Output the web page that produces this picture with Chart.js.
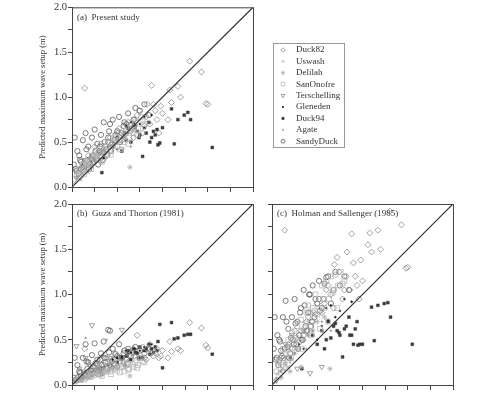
<!DOCTYPE html>
<html>
<head>
<meta charset="utf-8">
<script src="https://cdn.jsdelivr.net/npm/chart.js@4"></script>
<style>
body { margin: 0; background: #fff; }
#wrap { position: relative; width: 502px; height: 396px; overflow: hidden; }
canvas { position: absolute; }
</style>
</head>
<body>
<div id="wrap">
  <canvas id="chartA" width="360" height="200" style="left:0;top:0"></canvas>
  <canvas id="chartB" width="260" height="200" style="left:0;top:196px"></canvas>
  <canvas id="chartC" width="242" height="200" style="left:260px;top:196px"></canvas>
</div>
<script>
// measured setup (x) and predicted setup for panels a, b, c (y)
const xSandyDuck = [0.02,0.03,0.05,0.06,0.08,0.10,0.12,0.13,0.15,0.17,0.18,0.20,0.22,0.23,0.25,0.27,0.28,0.30,0.32,0.33,
  0.35,0.37,0.38,0.40,0.42,0.44,0.45,0.47,0.50,0.52,0.55,0.57,0.60,0.62,0.65,0.68,0.70,0.75,0.80,0.85,
  0.04,0.07,0.09,0.11,0.14,0.16,0.19,0.21,0.24,0.26,0.29,0.31,0.34,0.36,0.39,0.41,0.43,0.48,0.53,0.58];
const aSandyDuck = [0.25,0.55,0.18,0.40,0.35,0.28,0.52,0.22,0.60,0.30,0.45,0.26,0.55,0.35,0.64,0.30,0.48,0.38,0.58,0.34,
  0.72,0.45,0.42,0.55,0.70,0.48,0.75,0.52,0.62,0.78,0.60,0.68,0.70,0.82,0.65,0.75,0.88,0.85,0.92,0.80,
  0.20,0.15,0.30,0.22,0.25,0.42,0.20,0.32,0.28,0.40,0.25,0.45,0.30,0.50,0.36,0.62,0.40,0.58,0.50,0.72];
const bSandyDuck = [0.08,0.30,0.05,0.22,0.15,0.10,0.30,0.12,0.45,0.18,0.25,0.12,0.33,0.20,0.46,0.15,0.28,0.18,0.35,0.22,
  0.48,0.25,0.20,0.61,0.60,0.26,0.40,0.28,0.32,0.45,0.30,0.35,0.28,0.40,0.32,0.36,0.42,0.38,0.35,0.40,
  0.06,0.09,0.14,0.08,0.10,0.26,0.12,0.16,0.13,0.24,0.12,0.28,0.15,0.30,0.18,0.36,0.20,0.34,0.30,0.38];
const cSandyDuck = [0.40,0.75,0.30,0.55,0.50,0.38,0.75,0.30,0.93,0.42,0.62,0.35,0.75,0.50,0.95,0.45,0.70,0.55,0.85,0.50,
  1.05,0.65,0.60,0.80,1.00,0.70,1.10,0.75,0.90,1.15,0.85,0.95,1.19,1.20,0.90,1.05,1.25,1.10,1.20,1.05,
  0.28,0.22,0.48,0.32,0.40,0.70,0.30,0.52,0.45,0.68,0.40,0.80,0.50,0.88,0.60,1.00,0.65,0.95,0.82,1.12];

const xDuck82 = [0.10,0.14,0.18,0.22,0.25,0.30,0.35,0.40,0.45,0.50,0.55,0.60,0.65,0.69,0.72,0.80,0.83,0.88,0.92,0.98,
  1.00,1.06,1.08,1.10,1.17,1.20,1.30,1.43,1.48,1.50,
  0.32,0.38,0.42,0.48,0.52,0.58,0.62,0.68,0.74,0.78,0.82,0.86,0.90,0.94,0.96];
const aDuck82 = [0.20,1.10,0.35,0.30,0.45,0.40,0.38,0.50,0.45,0.60,0.52,0.70,0.62,0.75,0.80,0.68,0.92,1.13,0.85,0.90,
  0.82,0.75,1.08,0.94,1.12,1.00,1.40,1.28,0.93,0.92,
  0.48,0.42,0.55,0.50,0.65,0.58,0.72,0.55,0.85,0.60,0.78,0.70,0.92,0.75,0.60];
const bDuck82 = [0.10,0.40,0.15,0.18,0.20,0.16,0.22,0.25,0.28,0.20,0.30,0.30,0.35,0.32,0.55,0.30,0.40,0.35,0.35,0.32,
  0.38,0.30,0.48,0.37,0.40,0.38,0.69,0.63,0.44,0.41,
  0.18,0.30,0.22,0.35,0.26,0.38,0.24,0.40,0.30,0.42,0.28,0.45,0.32,0.40,0.30];
const cDuck82 = [0.30,1.71,0.45,0.40,0.60,0.55,0.55,0.75,0.70,0.90,0.80,1.05,1.00,1.33,1.41,1.05,1.47,1.67,1.20,1.38,
  1.15,1.55,1.68,1.47,1.71,1.50,1.92,1.77,1.29,1.30,
  0.60,0.70,0.80,0.78,0.95,0.90,1.10,0.85,1.25,0.95,1.20,1.05,1.35,1.10,0.95];

const xSanOnofre = [0.05,0.08,0.10,0.12,0.15,0.18,0.20,0.22,0.25,0.28,0.30,0.32,0.35,0.38,0.40,0.42,0.45,0.48,0.50,0.52,
  0.55,0.58,0.60,0.63,0.65,0.68,0.70,0.73,0.76,0.80,
  0.07,0.13,0.17,0.21,0.27,0.33,0.37,0.43,0.47,0.53,0.57,0.62,0.67,0.72,0.78];
const aSanOnofre = [0.12,0.20,0.15,0.25,0.22,0.30,0.28,0.35,0.32,0.40,0.30,0.42,0.38,0.45,0.50,0.40,0.48,0.55,0.45,0.52,
  0.58,0.50,0.62,0.55,0.68,0.60,0.72,0.65,0.78,0.70,
  0.18,0.14,0.26,0.20,0.36,0.28,0.45,0.36,0.52,0.42,0.60,0.48,0.64,0.58,0.74];
const bSanOnofre = [0.05,0.08,0.06,0.10,0.08,0.12,0.10,0.14,0.11,0.16,0.12,0.18,0.14,0.20,0.17,0.15,0.22,0.18,0.16,0.25,
  0.20,0.15,0.22,0.18,0.28,0.20,0.25,0.22,0.30,0.25,
  0.07,0.06,0.11,0.09,0.13,0.10,0.15,0.12,0.19,0.14,0.21,0.17,0.23,0.19,0.26];
const cSanOnofre = [0.15,0.30,0.22,0.40,0.35,0.50,0.42,0.58,0.50,0.65,0.48,0.72,0.60,0.80,0.88,0.65,0.85,1.00,0.78,0.95,
  1.10,0.85,1.15,0.95,1.20,1.05,1.22,1.10,1.25,1.15,
  0.25,0.20,0.38,0.30,0.52,0.40,0.68,0.55,0.82,0.62,0.95,0.70,1.02,0.85,1.12];

const xDuck94 = [0.33,0.45,0.50,0.55,0.58,0.62,0.65,0.68,0.72,0.75,0.78,0.80,0.85,0.88,0.90,0.95,0.97,1.00,1.10,1.13,
  1.17,1.24,1.28,1.31,1.55,0.60,0.70,0.74,0.82,0.86,0.92,0.94];
const aDuck94 = [0.16,0.45,0.55,0.40,0.60,0.65,0.50,0.70,0.62,0.58,0.34,0.66,0.72,0.55,0.62,0.47,0.49,0.66,0.87,0.48,
  0.75,0.80,0.83,0.75,0.44,0.52,0.68,0.55,0.60,0.50,0.58,0.64];
const bDuck94 = [0.12,0.20,0.25,0.30,0.22,0.38,0.28,0.40,0.35,0.42,0.30,0.38,0.45,0.40,0.36,0.48,0.67,0.19,0.69,0.51,
  0.52,0.55,0.56,0.56,0.34,0.32,0.36,0.30,0.40,0.34,0.42,0.38];
const cDuck94 = [0.18,0.55,0.45,0.60,0.40,0.70,0.52,0.65,0.60,0.55,0.31,0.62,0.75,0.55,0.45,0.44,0.45,0.45,0.86,0.49,
  0.88,0.90,0.91,0.75,0.45,0.50,0.68,0.58,0.65,0.55,0.62,0.70];

const xDelilah = [0.10,0.15,0.20,0.25,0.28,0.32,0.35,0.40,0.45,0.50,0.58,0.64];
const aDelilah = [0.15,0.25,0.22,0.30,0.35,0.28,0.40,0.38,0.45,0.50,0.55,0.22];
const bDelilah = [0.06,0.10,0.09,0.12,0.14,0.11,0.16,0.15,0.18,0.20,0.22,0.10];
const cDelilah = [0.08,0.25,0.15,0.35,0.40,0.20,0.50,0.55,0.60,0.70,0.75,0.18];

const xTerschelling = [0.05,0.08,0.12,0.15,0.18,0.22,0.28,0.35,0.42,0.55];
const aTerschelling = [0.10,0.20,0.18,0.30,0.25,0.35,0.30,0.40,0.45,0.42];
const bTerschelling = [0.43,0.18,0.15,0.30,0.25,0.66,0.22,0.30,0.30,0.61];
const cTerschelling = [0.05,0.25,0.15,0.45,0.30,0.55,0.18,0.60,0.13,0.20];

const xUswash = [0.03,0.06,0.08,0.10,0.12,0.15,0.18,0.22];
const aUswash = [0.05,0.10,0.12,0.08,0.15,0.18,0.16,0.22];
const bUswash = [0.02,0.05,0.06,0.04,0.07,0.08,0.07,0.10];
const cUswash = [0.04,0.12,0.15,0.10,0.18,0.22,0.20,0.28];

const xGleneden = [0.20,0.25,0.30,0.35,0.40,0.45,0.50,0.55,0.60,0.62,0.65,0.70,0.75,0.80,0.88];
const aGleneden = [0.25,0.30,0.38,0.32,0.45,0.50,0.42,0.55,0.68,0.60,0.72,0.65,0.70,0.78,0.80];
const bGleneden = [0.12,0.15,0.18,0.20,0.22,0.28,0.30,0.32,0.38,0.35,0.36,0.40,0.38,0.42,0.45];
const cGleneden = [0.30,0.35,0.45,0.40,0.55,0.60,0.50,0.65,0.85,0.72,0.88,0.75,0.82,0.95,0.92];

const xAgate = [0.05,0.10,0.15,0.20,0.25,0.30,0.38,0.45,0.55,0.65];
const aAgate = [0.10,0.15,0.20,0.22,0.28,0.35,0.32,0.40,0.50,0.45];
const bAgate = [0.05,0.08,0.52,0.12,0.14,0.18,0.50,0.20,0.25,0.28];
const cAgate = [0.08,0.15,0.30,0.25,0.35,0.45,0.40,0.55,0.70,0.60];

// perfect agreement line
const lineX = [0, 2];
const lineY = [0, 2];

const seriesNames = ['Duck82','Uswash','Delilah','SanOnofre','Terschelling','Gleneden','Duck94','Agate','SandyDuck'];
const axisTicks = [0, 0.5, 1.0, 1.5, 2.0];

// marker look for each series
const styles = {
  Duck82:       { pointStyle: 'rectRot',  radius: 3,   color: '#8a8a8a', fill: false },
  Uswash:       { pointStyle: 'crossRot', radius: 2.2, color: '#999999', fill: false },
  Delilah:      { pointStyle: 'star',     radius: 2.8, color: '#b0b0b0', fill: false },
  SanOnofre:    { pointStyle: 'rect',     radius: 3.4, color: '#b8b8b8', fill: false },
  Terschelling: { pointStyle: 'triangle', radius: 3,   color: '#8a8a8a', fill: false, rotation: 180 },
  Gleneden:     { pointStyle: 'circle',   radius: 0.9, color: '#111111', fill: true },
  Duck94:       { pointStyle: 'rect',     radius: 2.0, color: '#3a3a3a', fill: true },
  Agate:        { pointStyle: 'circle',   radius: 0.9, color: '#999999', fill: true },
  SandyDuck:    { pointStyle: 'circle',   radius: 2.6, color: '#5a5a5a', fill: false }
};

const xs = { Duck82: xDuck82, Uswash: xUswash, Delilah: xDelilah, SanOnofre: xSanOnofre, Terschelling: xTerschelling,
  Gleneden: xGleneden, Duck94: xDuck94, Agate: xAgate, SandyDuck: xSandyDuck };
const panelA = { Duck82: aDuck82, Uswash: aUswash, Delilah: aDelilah, SanOnofre: aSanOnofre, Terschelling: aTerschelling,
  Gleneden: aGleneden, Duck94: aDuck94, Agate: aAgate, SandyDuck: aSandyDuck };
const panelB = { Duck82: bDuck82, Uswash: bUswash, Delilah: bDelilah, SanOnofre: bSanOnofre, Terschelling: bTerschelling,
  Gleneden: bGleneden, Duck94: bDuck94, Agate: bAgate, SandyDuck: bSandyDuck };
const panelC = { Duck82: cDuck82, Uswash: cUswash, Delilah: cDelilah, SanOnofre: cSanOnofre, Terschelling: cTerschelling,
  Gleneden: cGleneden, Duck94: cDuck94, Agate: cAgate, SandyDuck: cSandyDuck };

function buildDatasets(ys) {
  // line first so it is painted on top
  const sets = [{
    type: 'line',
    data: lineX.map((v, i) => ({ x: v, y: lineY[i] })),
    borderColor: '#333',
    borderWidth: 1.2,
    pointRadius: 0,
    fill: false
  }];
  seriesNames.forEach(name => {
    const s = styles[name];
    sets.push({
      label: name,
      data: xs[name].map((v, i) => ({ x: v, y: ys[name][i] })),
      pointStyle: s.pointStyle,
      pointRadius: s.radius,
      pointRotation: s.rotation || 0,
      borderColor: s.color,
      backgroundColor: s.fill ? s.color : 'rgba(0,0,0,0)',
      borderWidth: s.fill ? 0.5 : 0.8
    });
  });
  return sets;
}

const serif = "'Liberation Serif', 'DejaVu Serif', serif";

// frame around the plot area plus the panel caption
const framePlugin = {
  id: 'frame',
  afterDraw(chart, args, opts) {
    const a = chart.chartArea;
    const ctx = chart.ctx;
    ctx.save();
    ctx.strokeStyle = '#444';
    ctx.lineWidth = 1;
    ctx.strokeRect(a.left + 0.5, a.top + 0.5, a.right - a.left, a.bottom - a.top);
    if (opts.text) {
      ctx.fillStyle = '#333';
      ctx.font = '9px ' + serif;
      ctx.textBaseline = 'middle';
      ctx.fillText(opts.text, a.left + 5, a.top + 10);
    }
    ctx.restore();
  }
};

// boxed legend to the right of panel (a)
const legendPlugin = {
  id: 'boxLegend',
  afterDraw(chart, args, opts) {
    if (!opts.show) return;
    const ctx = chart.ctx;
    ctx.save();
    ctx.strokeStyle = '#999';
    ctx.lineWidth = 1;
    ctx.strokeRect(273.5, 43.5, 71, 104);
    ctx.font = '9px ' + serif;
    ctx.textBaseline = 'middle';
    seriesNames.forEach((name, i) => {
      const s = styles[name];
      const y = 50 + i * 11.4;
      ctx.strokeStyle = s.color;
      ctx.fillStyle = s.fill ? s.color : 'rgba(0,0,0,0)';
      ctx.lineWidth = 0.8;
      Chart.helpers.drawPoint(ctx, {
        pointStyle: s.pointStyle, radius: s.radius * 0.75, rotation: s.rotation || 0, borderWidth: 0.8
      }, 283, y);
      ctx.fillStyle = '#333';
      ctx.fillText(name, 296, y);
    });
    ctx.restore();
  }
};

function makeScales(showYLabels, yAxisWidth) {
  return {
    x: {
      type: 'linear', min: 0, max: 2,
      afterBuildTicks: s => { s.ticks = [0,0.25,0.5,0.75,1,1.25,1.5,1.75,2].map(v => ({ value: v })); },
      ticks: { display: false },
      grid: { drawOnChartArea: false, drawTicks: true, tickLength: 5, color: '#444' },
      border: { color: '#444' },
      afterFit: s => { s.height = 8; }
    },
    y: {
      type: 'linear', min: 0, max: 2,
      afterBuildTicks: s => { s.ticks = [0,0.25,0.5,0.75,1,1.25,1.5,1.75,2].map(v => ({ value: v })); },
      ticks: {
        display: showYLabels,
        padding: 1,
        color: '#333',
        font: { family: serif, size: 10.5 },
        callback: v => axisTicks.includes(v) ? v.toFixed(1) : ''
      },
      title: {
        display: showYLabels,
        text: 'Predicted maximum wave setup (m)',
        color: '#333',
        font: { family: serif, size: 8.5 }
      },
      grid: { drawOnChartArea: false, drawTicks: true, tickLength: 4, color: '#444' },
      border: { color: '#444' },
      afterFit: s => { s.width = yAxisWidth; }
    }
  };
}

function makeChart(id, ys, caption, padding, showYLabels, yAxisWidth, showLegend) {
  return new Chart(document.getElementById(id), {
    type: 'scatter',
    data: { datasets: buildDatasets(ys) },
    options: {
      responsive: false,
      animation: false,
      layout: { padding: padding },
      scales: makeScales(showYLabels, yAxisWidth),
      plugins: {
        legend: { display: false },
        tooltip: { enabled: false },
        frame: { text: caption },
        boxLegend: { show: showLegend }
      }
    },
    plugins: [framePlugin, legendPlugin]
  });
}

makeChart('chartA', panelA, '(a)  Present study', { left: 34, right: 107, top: 6, bottom: 5 }, true, 38, true);
makeChart('chartB', panelB, '(b)  Guza and Thorton (1981)', { left: 34, right: 7, top: 8, bottom: 3 }, true, 38, false);
makeChart('chartC', panelC, '(c)  Holman and Sallenger (1985)', { left: 0, right: 49, top: 8, bottom: 3 }, false, 12, false);
</script>
</body>
</html>
